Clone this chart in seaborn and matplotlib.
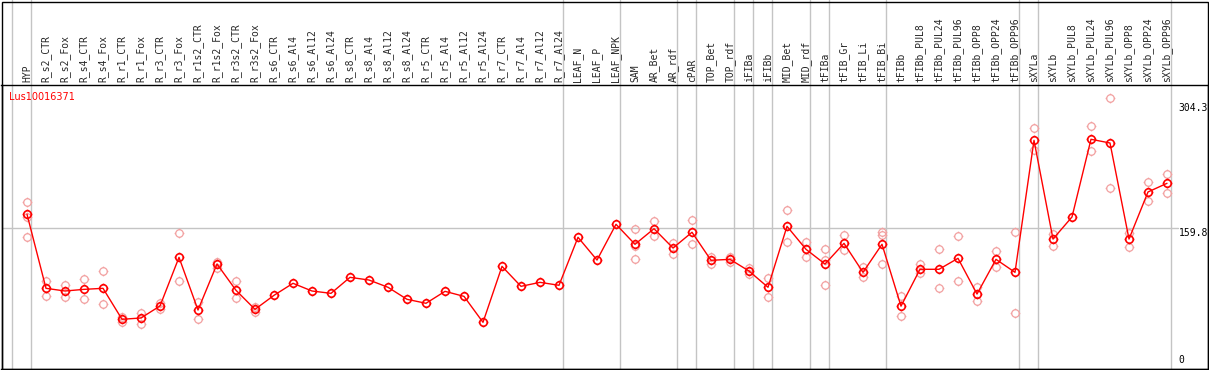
import matplotlib
matplotlib.use("Agg")
import matplotlib.pyplot as plt
from matplotlib.path import Path
from matplotlib.patches import Rectangle
import numpy as np
import seaborn as sns

nan = np.nan

samples = [
    "HYP", "R_s2_CTR", "R_s2_Fox", "R_s4_CTR", "R_s4_Fox", "R_r1_CTR", "R_r1_Fox",
    "R_r3_CTR", "R_r3_Fox", "R_r1s2_CTR", "R_r1s2_Fox", "R_r3s2_CTR", "R_r3s2_Fox",
    "R_s6_CTR", "R_s6_Al4", "R_s6_Al12", "R_s6_Al24", "R_s8_CTR", "R_s8_Al4",
    "R_s8_Al12", "R_s8_Al24", "R_r5_CTR", "R_r5_Al4", "R_r5_Al12", "R_r5_Al24",
    "R_r7_CTR", "R_r7_Al4", "R_r7_Al12", "R_r7_Al24", "LEAF_N", "LEAF_P", "LEAF_NPK",
    "SAM", "AR_Bet", "AR_rdf", "cPAR", "TOP_Bet", "TOP_rdf", "iFIBa", "iFIBb",
    "MID_Bet", "MID_rdf", "tFIBa", "tFIB_Gr", "tFIB_Li", "tFIB_Bi", "tFIBb",
    "tFIBb_PUL8", "tFIBb_PUL24", "tFIBb_PUL96", "tFIBb_OPP8", "tFIBb_OPP24",
    "tFIBb_OPP96", "sXYLa", "sXYLb", "sXYLb_PUL8", "sXYLb_PUL24", "sXYLb_PUL96",
    "sXYLb_OPP8", "sXYLb_OPP24", "sXYLb_OPP96",
]

# mean expression per sample
means = [
    175.4, 89.8, 86.7, 88.6, 89.8, 54.0, 55.5, 69.4, 125.6, 64.7, 117.9, 87.5, 65.5,
    81.7, 95.6, 86.7, 84.0, 102.5, 99.4, 91.0, 77.1, 72.5, 86.3, 80.5, 50.5,
    115.2, 92.1, 96.7, 93.3, 148.8, 122.5, 163.8,
    140.7, 158.7, 136.4, 154.6, 122.2, 123.3, 109.8, 91.0, 161.5, 134.9,
    117.9, 141.8, 108.3, 140.7, 69.2, 111.8, 111.8, 124.5, 83.2, 123.3, 108.3,
    260.9, 146.8, 172.3, 262.1, 257.8, 146.8, 201.2, 211.2,
]

# individual replicates (nan where hidden behind the mean)
rep_hi = [
    190.0, 98.3, 93.3, 100.6, 109.8, 56.3, 61.3, 73.2, 153.3, 74.4, 120.6, 97.9, 68.2,
    nan, nan, nan, nan, nan, nan, nan, nan, nan, nan, nan, nan,
    nan, nan, nan, nan, nan, nan, nan,
    158.0, 167.6, 141.8, 168.8, 126.4, 126.4, 113.6, 101.4, 180.0, 143.0,
    135.6, 151.1, 114.5, 154.9, 80.5, 118.3, 134.9, 150.3, 91.0, 132.6, 154.6,
    274.8, 153.0, nan, 277.5, 309.5, 154.1, 212.4, 221.6,
]
rep_lo = [
    148.8, 81.3, 79.4, 77.5, 71.3, 51.2, 48.6, 66.3, 97.9, 54.0, 113.6, 78.6, 62.8,
    nan, nan, nan, nan, nan, nan, nan, nan, nan, nan, nan, nan,
    nan, nan, nan, nan, nan, nan, nan,
    123.3, 150.6, 129.8, 140.7, 117.9, 119.8, 106.0, 79.4, 143.0, 126.4,
    93.3, 133.7, 102.9, 117.6, 57.5, 107.2, 89.8, 98.3, 75.1, 114.1, 60.9,
    249.7, 139.1, nan, 248.2, 205.4, 137.2, 190.4, 199.7,
]
rep_mid_idx = [0, 32, 42, 45]
rep_mid = [172.6, 139.0, 122.5, 151.4]

group_ends = [-1, 0, 28, 31, 34, 35, 37, 38, 39, 41, 42, 45, 52, 53, 60]
y_marks = [0, 159.8, 304.3]
title = "Lus10016371"

# circle (as polygon) with four short ticks outside
t = np.linspace(0, 2 * np.pi, 41)
ring = np.column_stack([np.cos(t), np.sin(t)])
verts = list(map(tuple, ring)) + [(0, 1), (0, 1.3), (0, -1), (0, -1.3),
                                  (1, 0), (1.3, 0), (-1, 0), (-1.3, 0)]
codes = [Path.MOVETO] + [Path.LINETO] * 40 + [Path.MOVETO, Path.LINETO] * 4
tick_circle = Path(verts, codes)

sns.set_style("white")
plt.rcParams["font.family"] = ["DejaVu Sans Mono", "DejaVu Sans"]

W, H = 1209, 370
fig = plt.figure(figsize=(W / 100, H / 100), dpi=100)
ax = fig.add_axes([1.5 / W, 1 / H, (1208 - 1.5) / W, (369 - 85) / H])

x = np.arange(len(samples))
pink = "#f2a0a0"
for reps in (rep_hi, rep_lo):
    sns.lineplot(x=x, y=reps, estimator=None, linestyle="", marker=tick_circle,
                 markersize=7, markerfacecolor="none", markeredgecolor=pink,
                 markeredgewidth=0.9, ax=ax)
sns.lineplot(x=rep_mid_idx, y=rep_mid, estimator=None, linestyle="", marker=tick_circle,
             markersize=7, markerfacecolor="none", markeredgecolor=pink,
             markeredgewidth=0.9, ax=ax)
sns.lineplot(x=x, y=means, estimator=None, color="red", linewidth=1.0,
             marker=tick_circle, markersize=7, markerfacecolor="none",
             markeredgecolor="red", markeredgewidth=1.2, ax=ax, zorder=5)

# x range from pixel positions: sample i sits at 27 + 19*i px
ax.set_xlim((1.5 - 27) / 19, (1208 - 27) / 19)
ax.set_ylim((366 - 369) / 0.865, (366 - 85) / 0.865)

for e in group_ends:
    ax.axvline(e + 0.2, ymin=0, ymax=(369 - 0) / (369 - 85), color="#c4c4c4",
               lw=1.0, clip_on=False, zorder=0)
ax.plot([ax.get_xlim()[0], 60.6], [159.8, 159.8], color="#c4c4c4", lw=1.0, zorder=0)

for v in y_marks:
    va = "bottom" if v == 0 else "top"
    yy = v + 1.5 if v == 0 else v
    ax.text(60.6, yy, f"{v:g}" if v == 0 else f"{v}", fontsize=7, va=va, ha="left",
            color="black")

ax.set_xticks(x)
ax.set_xticklabels(samples)
ax.tick_params(axis="x", top=True, labeltop=True, bottom=False, labelbottom=False,
               length=0, pad=2, labelrotation=90, labelsize=7)
ax.set_yticks([])
ax.set_xlabel("")
ax.set_ylabel("")
for s in ax.spines.values():
    s.set_color("black")
    s.set_linewidth(1.0)

fig.add_artist(Rectangle((1.5 / W, 1 / H), (1208 - 1.5) / W, (369 - 1.5) / H,
                         transform=fig.transFigure, fill=False, edgecolor="black", lw=1.0))

fig.text(9 / W, 1 - 97 / H, title, color="red", fontsize=7, va="center", ha="left",
         family="DejaVu Sans")

fig.savefig("out.png", dpi=100)
